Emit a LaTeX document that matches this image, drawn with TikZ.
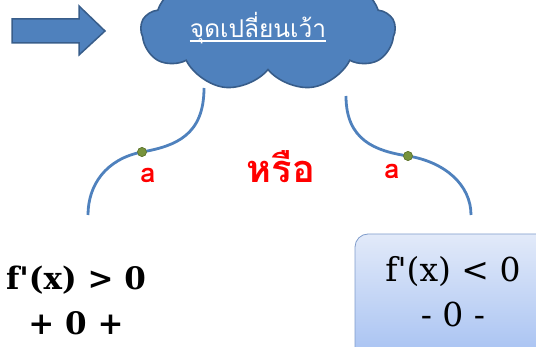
\documentclass[tikz,border=0pt]{standalone}
\usepackage{fontspec}
\setmainfont{Liberation Serif}
\newfontfamily\thai[Script=Thai]{Loma}
\newfontfamily\fxfont[Ligatures=TeXOff]{DejaVu Serif}
\usetikzlibrary{shapes.symbols}
\definecolor{ablue}{HTML}{4F81BD}
\definecolor{dblue}{HTML}{385D8A}
\definecolor{dotgreen}{HTML}{77933C}
\definecolor{boxtop}{HTML}{E2EAF9}
\definecolor{boxbot}{HTML}{A6C1F2}
\definecolor{boxline}{HTML}{7F9CCB}
\tikzset{
  curveline/.style={ablue, line width=2.8pt},
  greendot/.style={circle, fill=dotgreen, draw=dotgreen!80!black, line width=0.6pt, minimum size=9pt, inner sep=0pt},
  redlabel/.style={text=red, font=\thai\bfseries\fontsize{27}{27}\selectfont, inner sep=0pt},
  formula/.style={font=\fxfont\fontsize{33}{45}\selectfont, align=center, inner sep=0pt}
}
\begin{document}
\begin{tikzpicture}[x=1pt,y=-1pt]
\useasboundingbox (0,0) rectangle (536,347);
\clip (0,0) rectangle (536,347);
% arrow
\draw[fill=ablue, draw=dblue, line width=1.5pt, line join=miter]
  (12,19) -- (79,19) -- (79,6) -- (105,31) -- (79,55) -- (79,43) -- (12,43) -- cycle;
% cloud
\node[cloud, cloud puffs=9, cloud puff arc=115, aspect=2.3, fill=ablue, draw=dblue, line width=1.6pt,
      minimum width=254pt, minimum height=122pt] (cloud) at (268,30) {};
\node[text=white, font=\thai\fontsize{24.5}{26}\selectfont, inner sep=0pt, anchor=base] (title) at (258,38) {จุดเปลี่ยนเว้า};
\draw[white, line width=1.1pt] ([yshift=-3pt]title.base west) -- ([yshift=-3pt]title.base east);
% curves
\coordinate (l1) at (204,88);
\node[greendot] (ldot) at (142,152) {};
\coordinate (l2) at (88,215);
\draw[curveline] (l1) .. controls (204,135) and (176,146) .. (ldot.center) .. controls (106,159) and (88,185) .. (l2);
\node[greendot] at (ldot.center) {};
\coordinate (r1) at (346,96);
\node[greendot] (rdot) at (408,156) {};
\coordinate (r2) at (471,215);
\draw[curveline] (r1) .. controls (346,140) and (375,151) .. (rdot.center) .. controls (445,162) and (471,185) .. (r2);
\node[greendot] at (rdot.center) {};
% labels
\node[redlabel] (la) at (148,175) {a};
\node[redlabel] (ra) at (392,171) {a};
\node[text=red, font=\thai\bfseries\fontsize{38}{38}\selectfont, inner sep=0pt] (or) at (281,167) {หรือ};
% left formula
\node[formula, font=\fxfont\bfseries\fontsize{31}{45}\selectfont] (lf) at (76,300) {f'(x) > 0\\+ 0 +};
% right box
\draw[boxline, line width=0.8pt, rounded corners=13pt, top color=boxtop, bottom color=boxbot]
  (355,234) rectangle (560,360);
\node[formula] (rf) at (453,292) {f'(x) < 0\\- 0 -};
\end{tikzpicture}
\end{document}
